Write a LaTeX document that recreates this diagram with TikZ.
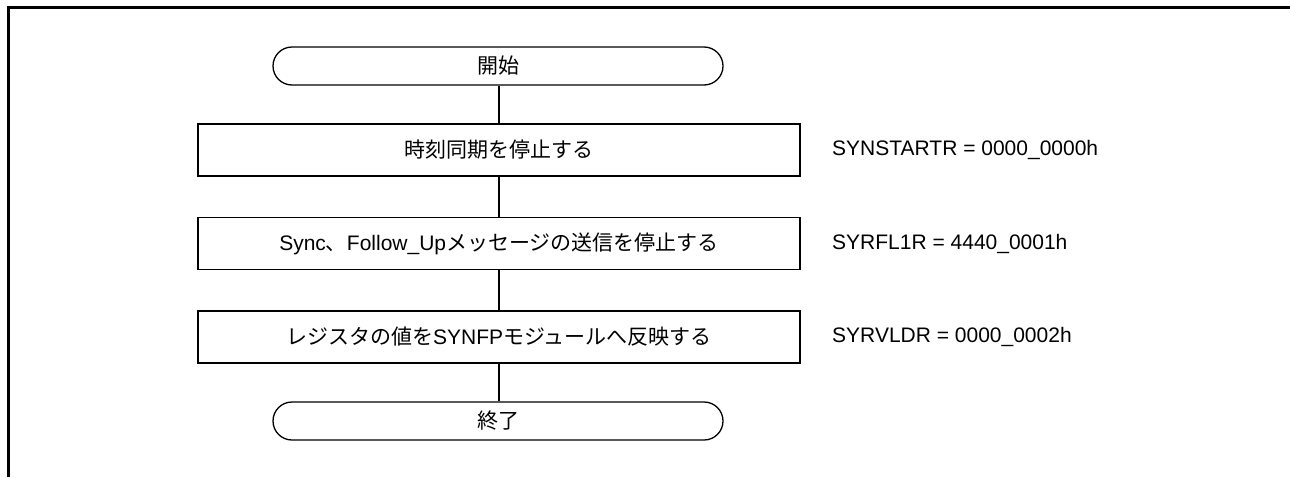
\documentclass[tikz,border=0pt]{standalone}
\usepackage{fontspec}
\setmainfont{Liberation Sans}
\newfontfamily\jpfont{Noto Sans CJK JP}
\newcommand\J[1]{{\jpfont\fontsize{21}{24}\selectfont #1}}
\begin{document}
\begin{tikzpicture}[x=1pt,y=-1pt,
  every node/.style={font=\fontsize{21}{24}\selectfont, inner sep=0pt},
  term/.style={draw, line width=1.3pt, minimum width=450pt, minimum height=38pt, rounded corners=19pt},
  proc/.style={draw, line width=1.3pt, minimum width=602pt, minimum height=52pt},
  reg/.style={anchor=west},
  conn/.style={line width=1.3pt}]
\useasboundingbox (0,0) rectangle (1290,477);
\draw[line width=3pt] (8.5,477) -- (8.5,7) -- (1290,7);
\node[term] (start) at (498,66) {\J{開始}};
\node[proc] (p1) at (499,150) {\J{時刻同期を停止する}};
\node[proc] (p2) at (499,243.5) {Sync\J{、}Follow\_Up\J{メッセージの送信を停止する}};
\node[proc] (p3) at (499,337) {\J{レジスタの値を}SYNFP\J{モジュールへ反映する}};
\node[term] (end) at (498,421) {\J{終了}};
\node[reg] (r1) at (832,150) {SYNSTARTR = 0000\_0000h};
\node[reg] (r2) at (832,243.5) {SYRFL1R = 4440\_0001h};
\node[reg] (r3) at (832,337) {SYRVLDR = 0000\_0002h};
\draw[conn] (start.south -| p1.north) -- (p1.north);
\draw[conn] (p1.south) -- (p2.north);
\draw[conn] (p2.south) -- (p3.north);
\draw[conn] (p3.south) -- (end.north -| p3.south);
\end{tikzpicture}
\end{document}
